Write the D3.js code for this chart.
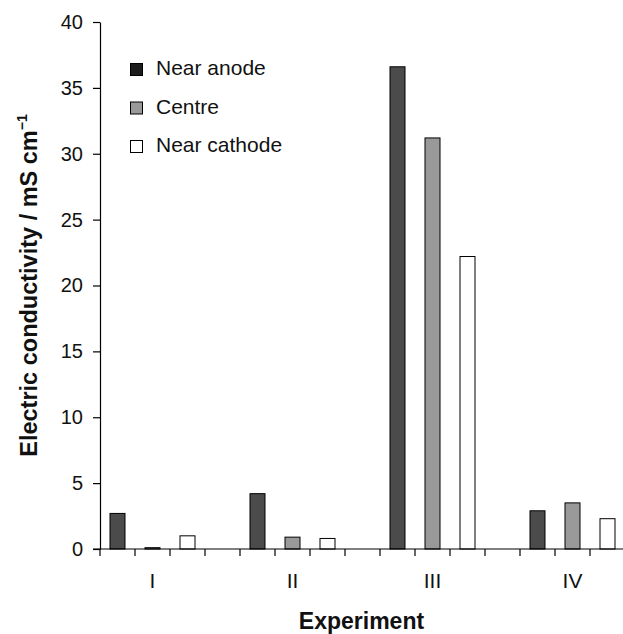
<!DOCTYPE html>
<html><head><meta charset="utf-8">
<script src="https://cdn.jsdelivr.net/npm/d3@7"></script>
<style>body{margin:0;background:#fff}svg{display:block;font-family:"Liberation Sans",Arial,sans-serif}</style>
</head><body><svg id="c" width="623" height="634"></svg>
<script>
const categories = ["I","II","III","IV"];
const seriesNames = ["Near anode","Centre","Near cathode"];
const nearAnode = [2.7, 4.2, 36.6, 2.9];
const centre = [0.1, 0.9, 31.2, 3.5];
const nearCathode = [1.0, 0.8, 22.2, 2.3];
const yTicks = [0,5,10,15,20,25,30,35,40];
const barFill = ["#4b4b4b","#999999","#ffffff"];
const legendFill = ["#1c1c1c","#999999","#ffffff"];

const values = [nearAnode, centre, nearCathode];
const svg = d3.select("#c");
const L=100, T=22, B=549, slot=35;
const x0 = d3.scaleBand().domain(categories).range([L, L + categories.length*4*slot]);
const x1 = d3.scaleBand().domain(seriesNames).range([0, 3*slot]);
const y = d3.scaleLinear().domain([0,40]).range([B,T]);

// bars
categories.forEach((c,i)=>{
  seriesNames.forEach((s,j)=>{
    const v = values[j][i];
    const cx = x0(c) + x1(s) + x1.bandwidth()/2;
    svg.append("rect").attr("x", cx-7.5).attr("y", y(v)).attr("width",15).attr("height", y(0)-y(v))
      .attr("fill", barFill[j]).attr("stroke","#000").attr("stroke-width",1);
  });
});

// y axis
const ya = svg.append("g").attr("transform",`translate(${L},0)`)
  .call(d3.axisLeft(y).tickValues(yTicks).tickSize(7).tickSizeOuter(0).tickPadding(10));
ya.selectAll("text").attr("font-size",20).attr("fill","#111").attr("font-family","Liberation Sans, Arial, sans-serif");
ya.selectAll("line,path").attr("stroke","#000").attr("stroke-width",1.2);

// x axis
const xEnd = L + (categories.length*4-1)*slot;
svg.append("line").attr("x1",L-7).attr("x2",xEnd).attr("y1",B).attr("y2",B).attr("stroke","#000").attr("stroke-width",1.2);
d3.range(categories.length*4).forEach(k=>{
  const gx = x0(categories[Math.floor(k/4)]) + (k%4)*slot;
  svg.append("line").attr("x1",gx).attr("x2",gx).attr("y1",B).attr("y2",B+7).attr("stroke","#000").attr("stroke-width",1.2);
});
categories.forEach(c=>{
  svg.append("text").attr("x", x0(c)+1.5*slot).attr("y", 588).attr("text-anchor","middle")
    .attr("font-size",21).attr("fill","#111").text(c);
});

// titles
svg.append("text").attr("x",(L+623)/2).attr("y",629).attr("text-anchor","middle")
  .attr("font-size",23).attr("font-weight","bold").attr("fill","#111").text("Experiment");
const yt = svg.append("text").attr("transform",`translate(37,${(T+B)/2}) rotate(-90)`).attr("text-anchor","middle")
  .attr("font-size",23.5).attr("font-weight","bold").attr("fill","#111");
yt.append("tspan").text("Electric conductivity / mS cm");
yt.append("tspan").attr("dy",-10).attr("font-size",14).text("\u22121");

// legend
seriesNames.forEach((s,j)=>{
  const ly = 75 + j*38.5;
  svg.append("rect").attr("x",130.5).attr("y",ly-11.5).attr("width",12).attr("height",12)
    .attr("fill",legendFill[j]).attr("stroke","#000").attr("stroke-width",1);
  svg.append("text").attr("x",156).attr("y",ly).attr("font-size",21).attr("fill","#111").text(s);
});
</script></body></html>
